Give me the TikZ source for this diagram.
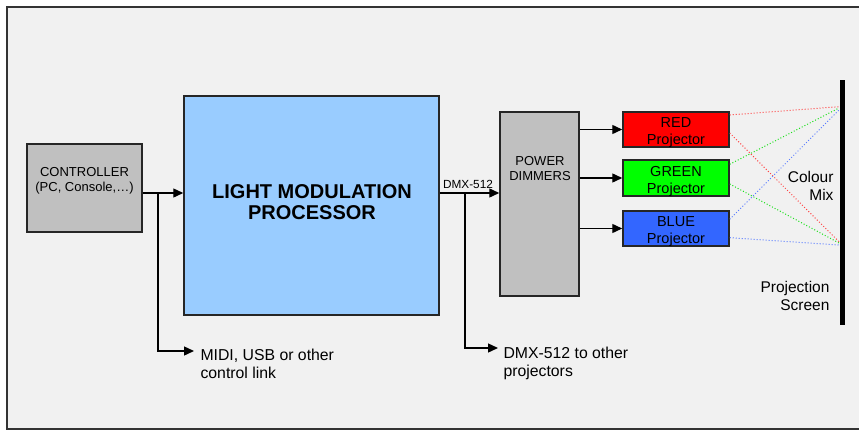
\documentclass[tikz,border=0pt]{standalone}
\usepackage{fontspec}
\setmainfont{Liberation Sans}
\usepackage{xcolor}
\usetikzlibrary{arrows.meta}
\definecolor{panelgray}{RGB}{241,241,241}
\definecolor{boxgray}{RGB}{192,192,192}
\definecolor{lmpblue}{RGB}{153,204,255}
\definecolor{projred}{RGB}{255,0,0}
\definecolor{projgreen}{RGB}{0,255,0}
\definecolor{projblue}{RGB}{51,102,255}
\definecolor{beamred}{RGB}{255,70,70}
\definecolor{beamgreen}{RGB}{30,225,30}
\definecolor{beamblue}{RGB}{90,125,255}

\begin{document}
\begin{tikzpicture}[x=1pt,y=-1pt,
    block/.style={draw=black!85,line width=1.5pt,inner sep=0pt},
    projtext/.style={yshift=-3pt,font=\fontsize{14.5}{17}\selectfont,align=center},
    link/.style={line width=1.4pt,-{Triangle[length=10pt,width=9pt]}},
    wire/.style={line width=1.4pt},
    beam/.style={dotted,line width=1pt}]
  \useasboundingbox (0,0) rectangle (859,431);
  \fill[white] (0,0) rectangle (859,431);
  \fill[panelgray] (7,7) rectangle (859,429);
  \draw[line width=2pt,black!80] (859,7) -- (7,7) -- (7,429) -- (859,429);

  \node[block,fill=boxgray,minimum width=115pt,minimum height=88pt] (ctrl) at (84.5,188) {};
  \node[font=\fontsize{13}{15}\selectfont,align=center] (ctrltext) at (84.5,181) {CONTROLLER\\(PC, Console,…)};
  \node[block,fill=lmpblue,minimum width=255pt,minimum height=219pt] (lmp) at (311.5,205.5) {};
  \node[font=\bfseries\fontsize{20}{21.5}\selectfont,align=center] (lmptext) at (312,202) {LIGHT MODULATION\\PROCESSOR};
  \node[block,fill=boxgray,minimum width=79pt,minimum height=184pt] (dim) at (539.5,204) {};
  \node[font=\fontsize{13}{15}\selectfont,align=center] (dimtext) at (540,169) {POWER\\DIMMERS};

  \node[block,fill=projred,minimum width=106pt,minimum height=35pt] (red) at (676,129.5) {};
  \node[projtext] (redtext) at (red) {RED\\Projector};
  \node[block,fill=projgreen,minimum width=106pt,minimum height=36pt] (green) at (676,178) {};
  \node[projtext] (greentext) at (green) {GREEN\\Projector};
  \node[block,fill=projblue,minimum width=106pt,minimum height=35pt] (blue) at (676,228.5) {};
  \node[projtext] (bluetext) at (blue) {BLUE\\Projector};

  \node[fill=black,inner sep=0pt,minimum width=5pt,minimum height=245pt] (screen) at (842.5,202.5) {};
  \node[anchor=east,align=right,font=\fontsize{15.5}{17.5}\selectfont] (mix) at (837,186) {Colour\\Mix};
  \node[anchor=east,align=right,font=\fontsize{15.5}{18}\selectfont] (scrtext) at (833,295.5) {Projection\\Screen};

  \coordinate (j1) at (158,193);
  \coordinate (m1) at (194,351);
  \coordinate (j2) at (465,193);
  \coordinate (m2) at (498,348);
  \coordinate (hi) at (839,108);
  \coordinate (lo) at (839,243);

  \draw[wire] (ctrl.east |- j1) -- (j1);
  \draw[link] (j1) -- (lmp.west |- j1);
  \draw[link] (j1) |- (m1);
  \node[anchor=west,align=left,font=\fontsize{15.8}{18}\selectfont] (midi) at (197,364) {MIDI, USB or other\\control link};

  \draw[wire] (lmp.east |- j2) -- (j2);
  \draw[link] (j2) -- (dim.west |- j2);
  \draw[link] (j2) |- (m2);
  \node[font=\fontsize{11.8}{14}\selectfont] (dmx) at (468,184) {DMX-512};
  \node[anchor=west,align=left,font=\fontsize{15.8}{18}\selectfont] (dmxout) at (500,363) {DMX-512 to other\\projectors};

  \draw[link] (dim.east |- red.west) -- (red.west);
  \draw[link] (dim.east |- green.west) -- (green.west);
  \draw[link] (dim.east |- blue.west) -- (blue.west);

  \draw[beam,beamred] ([yshift=-3.7pt]red.north east) -- ([yshift=1.3pt]hi);
  \draw[beam,beamred] ([yshift=-3.5pt]red.east) -- ([yshift=1.3pt]lo);
  \draw[beam,beamgreen] ([yshift=-5pt]green.north east) -- (hi);
  \draw[beam,beamgreen] ([yshift=-6pt]green.east) -- (lo);
  \draw[beam,beamblue] ([yshift=-9pt]blue.north east) -- ([yshift=-2pt]hi);
  \draw[beam,beamblue] ([yshift=-9.2pt]blue.east) -- ([yshift=-2pt]lo);
\end{tikzpicture}
\end{document}
